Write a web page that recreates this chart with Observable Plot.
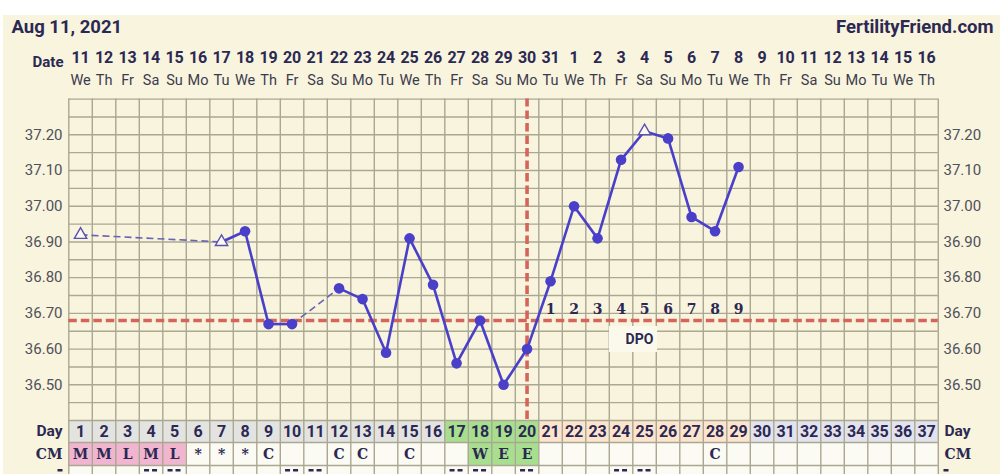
<!DOCTYPE html>
<html><head><meta charset="utf-8">
<script src="https://cdn.jsdelivr.net/npm/d3@7"></script>
<script src="https://cdn.jsdelivr.net/npm/@observablehq/plot@0.6"></script>
<style>html,body{margin:0;padding:0;background:#fff;overflow:hidden}svg{display:block}</style>
</head><body><div id="chart"></div>
<script>
// ---- data ----
const title = "Aug 11, 2021";
const brand = "FertilityFriend.com";
const cycleDays = d3.range(1, 38);
const dates = [11,12,13,14,15,16,17,18,19,20,21,22,23,24,25,26,27,28,29,30,31,1,2,3,4,5,6,7,8,9,10,11,12,13,14,15,16];
const weekdays = ["We","Th","Fr","Sa","Su","Mo","Tu","We","Th","Fr","Sa","Su","Mo","Tu","We","Th","Fr","Sa","Su","Mo","Tu","We","Th","Fr","Sa","Su","Mo","Tu","We","Th","Fr","Sa","Su","Mo","Tu","We","Th"];
const tempDays = [1,7,8,9,10,12,13,14,15,16,17,18,19,20,21,22,23,24,25,26,27,28,29];
const temps    = [36.92,36.90,36.93,36.67,36.67,36.77,36.74,36.59,36.91,36.78,36.56,36.68,36.50,36.60,36.79,37.00,36.91,37.13,37.21,37.19,36.97,36.93,37.11];
const openDays = [1,7,25];
const yTicks = [36.5,36.6,36.7,36.8,36.9,37.0,37.1,37.2];
const coverline = 36.68;
const ovulationDay = 20;
const fertileStart = 17;
const lastDataDay = 29;
const dpoLabels = ["1","2","3","4","5","6","7","8","9"];
const cmDays  = [1,2,3,4,5,6,7,8,9,12,13,15,18,19,20,28];
const cmCodes = ["M","M","L","M","L","*","*","*","C","C","C","C","W","E","E","C"];
const row3Days = [4,5,10,11,17,18,20,24,25];

// ---- styles ----
const cream = "#f8f4dd", grid = "#aaa792", dark = "#2b2953", red = "#d5645a", blue = "#4a3fc8";
const sans = "Roboto", serif = "DejaVu Serif";

const xDomain = [0.5, 37.5], xRange = [68.3, 937.8];
const yDomain = [36.4, 37.3], yRange = [420, 98.6];
const xS = Plot.scale({x: {domain: xDomain, range: xRange}});
const yS = Plot.scale({y: {domain: yDomain, range: yRange}});
const X = p => xS.invert(p), Y = p => yS.invert(p);

const pts = tempDays.map((d, i) => ({day: d, t: temps[i], open: openDays.includes(d)}));
const segs = pts.slice(1).map((p, i) => ({a: pts[i], b: p, gap: p.day - pts[i].day > 1}));
const gridTemps = d3.range(0, 19).map(i => yDomain[0] + i * 0.05);
const edges = d3.range(0, 38).map(i => i + 0.5);
const cm = cmDays.map((d, i) => ({day: d, code: cmCodes[i]}));
const cmFillOf = {M: "#f1b5cf", L: "#f1b5cf", W: "#a7df8e", E: "#a7df8e"};
const cmFill = d => { const c = cm.find(e => e.day === d); return (c && cmFillOf[c.code]) || "#fbfaf3"; };
const dayFill = d => d < fertileStart ? "#e3e3e1" : d <= ovulationDay ? "#a7df8e" : d <= lastDataDay ? "#fde4cd" : "#e3e3ee";

// third row: only the tops of the marks are visible at the bottom edge
const row3Bars = row3Days.flatMap(d => [{c: xS.apply(d) - 4}, {c: xS.apply(d) + 4}])
  .concat([{c: 60}, {c: 946}]);

const cell = (y1, y2, fill) => Plot.rect(cycleDays, {x1: d => d - 0.5, x2: d => d + 0.5, y1: () => Y(y1), y2: () => Y(y2), fill});
const lbl = (txt, py, font, size) => [
  Plot.text([txt], {x: () => X(62), y: () => Y(py), text: d => d, textAnchor: "end", fontFamily: font, fontWeight: "bold", fontSize: size, fill: dark}),
  Plot.text([txt], {x: () => X(944), y: () => Y(py), text: d => d, textAnchor: "start", fontFamily: font, fontWeight: "bold", fontSize: size, fill: dark})
];

const chart = Plot.plot({
  width: 1000, height: 474, margin: 0,
  x: {domain: xDomain, range: xRange, axis: null},
  y: {domain: yDomain, range: yRange, axis: null},
  color: {type: "identity"},
  style: {background: "#fff", fontFamily: sans, overflow: "visible"},
  marks: [
    Plot.rect([0], {x1: () => X(3), x2: () => X(1000), y1: () => Y(15), y2: () => Y(474), fill: cream}),
    cell(420, 442, dayFill),
    cell(442, 465, cmFill),
    cell(465, 476, () => "#fbfaf3"),
    Plot.ruleY(gridTemps, {x1: 0.5, x2: 37.5, stroke: grid, strokeWidth: 1.4}),
    Plot.ruleY([Y(442), Y(465)], {x1: 0.5, x2: 37.5, stroke: grid, strokeWidth: 1.4}),
    Plot.ruleX(edges, {y1: () => Y(476), y2: yDomain[1], stroke: grid, strokeWidth: 1.4}),
    // DPO label box
    Plot.rect([0], {x1: () => X(609), x2: () => X(657), y1: () => Y(326), y2: () => Y(352), fill: "#fbf9ec"}),
    Plot.text(["DPO"], {x: () => X(639), y: () => Y(339), text: d => d, fontWeight: "bold", fontSize: 14, fill: dark}),
    // coverline & ovulation
    Plot.ruleY([coverline], {x1: 0.5, x2: 37.5, stroke: red, strokeWidth: 3.6, strokeDasharray: "8.5,4"}),
    Plot.ruleX([ovulationDay], {y1: () => Y(419), y2: yDomain[1], stroke: red, strokeWidth: 3.6, strokeDasharray: "8.5,4"}),
    // temperature line
    Plot.link(segs.filter(s => s.gap), {x1: s => s.a.day, y1: s => s.a.t, x2: s => s.b.day, y2: s => s.b.t, stroke: "#6a62b4", strokeWidth: 1.6, strokeDasharray: "7,4"}),
    Plot.link(segs.filter(s => !s.gap), {x1: s => s.a.day, y1: s => s.a.t, x2: s => s.b.day, y2: s => s.b.t, stroke: blue, strokeWidth: 2.6}),
    Plot.dot(pts.filter(p => !p.open), {x: "day", y: "t", r: 5.3, fill: blue}),
    Plot.dot(pts.filter(p => p.open), {x: "day", y: "t", r: 4.6, symbol: "triangle", fill: "#fbf9ee", stroke: "#5a52b2", strokeWidth: 1.4}),
    // DPO numbers
    Plot.text(dpoLabels, {x: (d, i) => ovulationDay + 1 + i, y: () => Y(309), text: d => d, fontFamily: serif, fontWeight: "bold", fontSize: 14, fill: dark}),
    // temperature axis labels
    Plot.text(yTicks, {x: () => X(62), y: d => d, text: d => d.toFixed(2), textAnchor: "end", fontSize: 15, fill: "#50505c"}),
    Plot.text(yTicks, {x: () => X(943), y: d => d, text: d => d.toFixed(2), textAnchor: "start", fontSize: 15, fill: "#50505c"}),
    // header
    Plot.text([title], {x: () => X(11), y: () => Y(27), text: d => d, textAnchor: "start", fontWeight: "bold", fontSize: 18.5, fill: dark}),
    Plot.text([brand], {x: () => X(993), y: () => Y(27), text: d => d, textAnchor: "end", fontWeight: "bold", fontSize: 18.5, fill: dark}),
    Plot.text(["Date"], {x: () => X(63), y: () => Y(62), text: d => d, textAnchor: "end", fontWeight: "bold", fontSize: 15, fill: dark}),
    Plot.text(cycleDays, {x: d => d, y: () => Y(57), text: (d, i) => String(dates[i]), fontWeight: "bold", fontSize: 16, fill: dark}),
    Plot.text(cycleDays, {x: d => d, y: () => Y(80), text: (d, i) => weekdays[i], fontSize: 14.5, fill: "#3c3b4e"}),
    // rows
    ...lbl("Day", 431, sans, 15.5),
    ...lbl("CM", 454, serif, 14),
    Plot.text(cycleDays, {x: d => d, y: () => Y(431), text: d => String(d), fontWeight: "bold", fontSize: 16, fill: dark}),
    Plot.text(cm, {x: "day", y: () => Y(454), text: "code", fontFamily: serif, fontWeight: "bold", fontSize: 14, fill: dark}),
    Plot.rect(row3Bars, {x1: b => X(b.c - 2.5), x2: b => X(b.c + 2.5), y1: () => Y(469), y2: () => Y(471.5), fill: dark})
  ]
});
document.getElementById("chart").appendChild(chart);
</script></body></html>
